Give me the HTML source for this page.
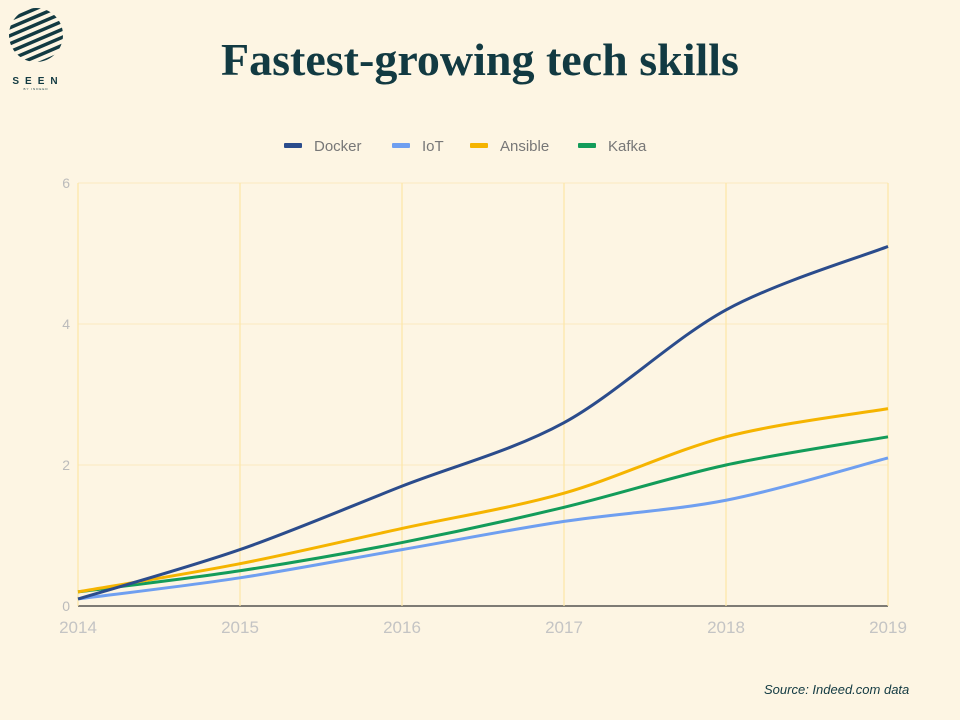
<!DOCTYPE html>
<html><head><meta charset="utf-8"><style>
html,body{margin:0;padding:0;background:#fdf5e3;}
body{width:960px;height:720px;position:relative;overflow:hidden;font-family:"Liberation Sans",sans-serif;}
#title{position:absolute;top:34px;left:0;width:960px;text-align:center;font-family:"Liberation Serif",serif;font-weight:bold;font-size:46px;color:#123a42;line-height:52px;}
#source{position:absolute;left:764px;top:682px;font-style:italic;font-size:13px;color:#123a42;}
</style></head><body>
<svg style="position:absolute;left:0;top:0" width="80" height="100">
<defs><clipPath id="c"><circle cx="36" cy="35" r="27"/></clipPath></defs>
<g clip-path="url(#c)" stroke="#123a42" stroke-width="3.5">
<line x1="0" y1="24" x2="70" y2="-6"/><line x1="0" y1="32" x2="70" y2="2"/><line x1="0" y1="40" x2="70" y2="10"/><line x1="0" y1="48" x2="70" y2="18"/><line x1="0" y1="56" x2="70" y2="26"/><line x1="0" y1="64" x2="70" y2="34"/><line x1="0" y1="72" x2="70" y2="42"/><line x1="0" y1="80" x2="70" y2="50"/><line x1="0" y1="88" x2="70" y2="58"/>
</g>
<text x="38" y="84" text-anchor="middle" font-family="Liberation Sans" font-weight="bold" font-size="10" letter-spacing="6" fill="#123a42">SEEN</text>
<text x="36" y="90" text-anchor="middle" font-family="Liberation Sans" font-size="3" letter-spacing="1" fill="#123a42">BY INDEED</text>
</svg>
<div id="title">Fastest-growing tech skills</div>
<svg id="chart" style="position:absolute;left:0;top:0" width="960" height="720"></svg>
<div id="source">Source: Indeed.com data</div>
<script>
const years=[2014,2015,2016,2017,2018,2019];
const yTicks=[0,2,4,6];
const seriesNames=["Docker","IoT","Ansible","Kafka"];
const docker=[0.1,0.8,1.7,2.6,4.2,5.1];
const iot=[0.1,0.4,0.8,1.2,1.5,2.1];
const ansible=[0.2,0.6,1.1,1.6,2.4,2.8];
const kafka=[0.2,0.5,0.9,1.4,2.0,2.4];
const colors=["#2b4c8c","#6f9ff0","#f5b400","#139c5a"];
const allSeries=[docker,iot,ansible,kafka];
const NS="http://www.w3.org/2000/svg";
const svg=document.getElementById('chart');
const X0=78,X1=888,Y0=606,Y1=183;
const xs=i=>X0+(X1-X0)*(years[i]-years[0])/(years[years.length-1]-years[0]);
const ys=v=>Y0-(Y0-Y1)*v/6;
function mk(t,a){const e=document.createElementNS(NS,t);for(const k in a)e.setAttribute(k,a[k]);svg.appendChild(e);return e;}
yTicks.forEach(v=>{
 const l=mk('line',{x1:X0,x2:X1,y1:ys(v),y2:ys(v),stroke:v===0?'#333':'#fbe9bf','stroke-width':v===0?1.2:1});
 
 
 const t=mk('text',{x:X0-8,y:ys(v)+5,'text-anchor':'end','font-size':14,fill:'#bbb','font-family':'Liberation Sans'});
 t.textContent=v;
 
 
});
years.forEach((y,i)=>{
 const l=mk('line',{x1:xs(i),x2:xs(i),y1:Y1,y2:Y0,stroke:'#fde7a6','stroke-width':1.2});
 
 
 const t=mk('text',{x:xs(i),y:633,'text-anchor':'middle','font-size':17,fill:'#c4c4c4','font-family':'Liberation Sans'});
 t.textContent=y;
 
 
});
function pathFor(vals){
 const p=vals.map((v,i)=>[xs(i),ys(v)]);
 let d='M'+p[0][0]+','+p[0][1];
 for(let i=0;i<p.length-1;i++){
  const a=p[Math.max(0,i-1)],b=p[i],c=p[i+1],e=p[Math.min(p.length-1,i+2)];
  const t=0.16;
  d+=' C'+(b[0]+(c[0]-a[0])*t)+','+(b[1]+(c[1]-a[1])*t)+' '+(c[0]-(e[0]-b[0])*t)+','+(c[1]-(e[1]-b[1])*t)+' '+c[0]+','+c[1];
 }
 return d;
}
[3,2,1,0].forEach(k=>{
 const p=mk('path',{d:pathFor(allSeries[k]),fill:'none',stroke:colors[k],'stroke-width':3});
 
 
});
const legX=[284,392,470,578];
seriesNames.forEach((n,k)=>{
 const r=mk('rect',{x:legX[k],y:143,width:18,height:5,rx:1,fill:colors[k]});
 
 
 const t=mk('text',{x:legX[k]+30,y:151,'font-size':15,fill:'#777','font-family':'Liberation Sans'});
 t.textContent=n;
 
 
});
</script>
</body></html>
